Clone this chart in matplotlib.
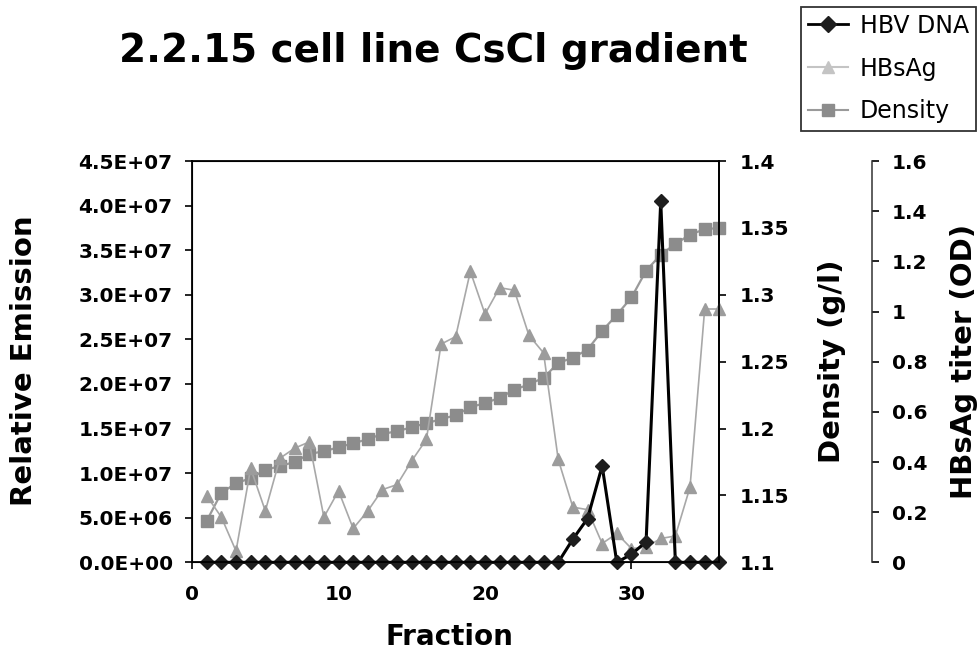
import matplotlib
matplotlib.use('Agg')
import matplotlib.pyplot as plt
from matplotlib.lines import Line2D
from matplotlib.ticker import FixedLocator, FuncFormatter

# data
fractions = [1, 2, 3, 4, 5, 6, 7, 8, 9, 10, 11, 12, 13, 14, 15, 16, 17, 18,
             19, 20, 21, 22, 23, 24, 25, 26, 27, 28, 29, 30, 31, 32, 33, 34, 35, 36]
hbv_dna = [0, 0, 0, 0, 0, 0, 0, 0, 0, 0, 0, 0, 0, 0, 0, 0, 0, 0,
           0, 0, 0, 0, 0, 0, 0, 2.6e6, 4.9e6, 1.08e7, 0, 0.9e6, 2.3e6, 4.05e7, 0, 0, 0, 0]
hbsag = [0.265, 0.18, 0.045, 0.375, 0.205, 0.415, 0.455, 0.48, 0.18, 0.285, 0.135, 0.205,
         0.29, 0.31, 0.405, 0.49, 0.87, 0.9, 1.16, 0.99, 1.095, 1.085, 0.905, 0.835,
         0.41, 0.22, 0.21, 0.075, 0.115, 0.055, 0.06, 0.095, 0.105, 0.3, 1.01, 1.01]
density = [1.131, 1.152, 1.159, 1.163, 1.169, 1.172, 1.175, 1.181, 1.183, 1.186, 1.189, 1.192,
           1.196, 1.198, 1.201, 1.204, 1.207, 1.210, 1.216, 1.219, 1.223, 1.229, 1.233, 1.238,
           1.249, 1.253, 1.259, 1.273, 1.285, 1.298, 1.318, 1.330, 1.338, 1.345, 1.349, 1.350]

x_ticks = [0, 10, 20, 30]
emission_ticks = [0, 5e6, 1e7, 1.5e7, 2e7, 2.5e7, 3e7, 3.5e7, 4e7, 4.5e7]
density_ticks = [1.1, 1.15, 1.2, 1.25, 1.3, 1.35, 1.4]
titer_ticks = [0, 0.2, 0.4, 0.6, 0.8, 1.0, 1.2, 1.4, 1.6]

plt.rcParams['font.family'] = 'DejaVu Sans'

fig = plt.figure(figsize=(9.8, 6.6), dpi=100)
ax = fig.add_axes([0.196, 0.148, 0.538, 0.608])
ax_den = ax.twinx()
ax_od = ax.twinx()

# density on its own right axis
ax_den.plot(fractions, density, color='#9a9a9a', lw=1.6, marker='s', ms=9,
            mfc='#8c8c8c', mec='#8c8c8c', clip_on=False)
ax_den.set_ylim(1.1, 1.4)
ax_den.yaxis.set_major_locator(FixedLocator(density_ticks))
ax_den.yaxis.set_major_formatter(FuncFormatter(lambda v, p: '%g' % v))

# HBsAg titer on the detached axis
ax_od.plot(fractions, hbsag, color='#a8a8a8', lw=1.2, marker='^', ms=9,
           mfc='#9c9c9c', mec='#9c9c9c', clip_on=False)
ax_od.set_ylim(0, 1.6)
ax_od.yaxis.set_major_locator(FixedLocator(titer_ticks))
ax_od.yaxis.set_major_formatter(FuncFormatter(lambda v, p: '%g' % v))
ax_od.spines['right'].set_position(('axes', 1.29))
for s in ['top', 'left', 'bottom']:
    ax_od.spines[s].set_visible(False)

# HBV DNA on the main axis, drawn on top
ax.set_zorder(ax_od.get_zorder() + 1)
ax.patch.set_visible(False)
ax.plot(fractions, hbv_dna, color='black', lw=2.2, marker='D', ms=7,
        mfc='#1e1e1e', mec='#1e1e1e', clip_on=False)
ax.set_xlim(0, 36)
ax.set_ylim(0, 4.5e7)
ax.xaxis.set_major_locator(FixedLocator(x_ticks))
ax.yaxis.set_major_locator(FixedLocator(emission_ticks))
ax.yaxis.set_major_formatter(FuncFormatter(lambda v, p: '%.1E' % v))

for a in [ax, ax_den, ax_od]:
    a.tick_params(direction='out', length=5, width=1.2, labelsize=14.5)
    for lab in a.get_xticklabels() + a.get_yticklabels():
        lab.set_fontweight('bold')
ax.tick_params(axis='x', pad=11)
ax.tick_params(axis='y', pad=9)
ax_den.tick_params(axis='y', pad=10)
ax_od.tick_params(axis='y', pad=9)
for s in ax.spines.values():
    s.set_linewidth(1.3)
ax_den.spines['right'].set_linewidth(1.3)
ax_od.spines['right'].set_linewidth(1.1)
ax_od.spines['right'].set_color('#333333')

fig.text(0.442, 0.922, '2.2.15 cell line CsCl gradient', ha='center', va='center',
         fontsize=28, fontweight='bold')
fig.text(0.024, 0.453, 'Relative Emission', rotation=90, ha='center', va='center',
         fontsize=21, fontweight='bold')
fig.text(0.849, 0.453, 'Density (g/l)', rotation=90, ha='center', va='center',
         fontsize=21, fontweight='bold')
fig.text(0.984, 0.453, 'HBsAg titer (OD)', rotation=90, ha='center', va='center',
         fontsize=21, fontweight='bold')
fig.text(0.459, 0.035, 'Fraction', ha='center', va='center',
         fontsize=20, fontweight='bold')

handles = [
    Line2D([], [], color='black', lw=2, marker='D', ms=8, mfc='#1e1e1e', mec='#1e1e1e'),
    Line2D([], [], color='#c4c4c4', lw=1.5, marker='^', ms=9, mfc='#c4c4c4', mec='#c4c4c4'),
    Line2D([], [], color='#9a9a9a', lw=1.5, marker='s', ms=8, mfc='#8c8c8c', mec='#8c8c8c'),
]
leg = fig.legend(handles, ['HBV DNA', 'HBsAg', 'Density'], loc='upper left',
                 bbox_to_anchor=(0.817, 0.99), fontsize=17, frameon=True,
                 fancybox=False, edgecolor='black', handlelength=1.7,
                 handletextpad=0.5, labelspacing=0.8, borderpad=0.3,
                 borderaxespad=0)
leg.get_frame().set_linewidth(1.3)

fig.savefig('out.png', dpi=100)
